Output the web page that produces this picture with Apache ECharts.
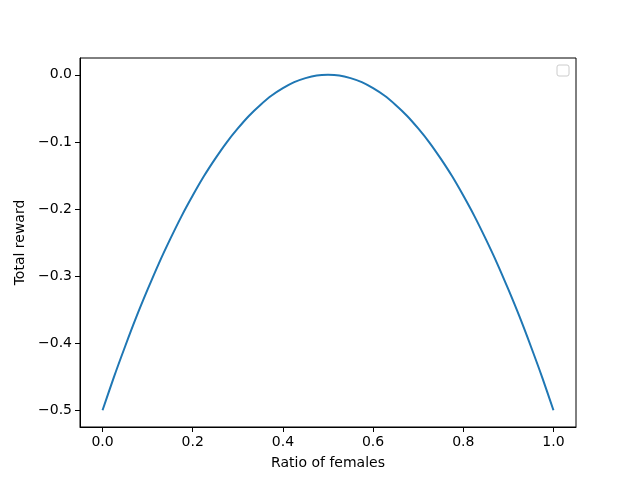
<!DOCTYPE html>
<html>
<head>
<meta charset="utf-8">
<script src="https://cdn.jsdelivr.net/npm/echarts@6/dist/echarts.min.js"></script>
<style>
  html, body { margin: 0; padding: 0; background: #fff; }
  #chart { width: 640px; height: 480px; }
</style>
</head>
<body>
<div id="chart"></div>
<script>
// values
var ratios  = [0, 0.025, 0.05, 0.075, 0.1, 0.125, 0.15, 0.175, 0.2, 0.225,
               0.25, 0.275, 0.3, 0.325, 0.35, 0.375, 0.4, 0.425, 0.45, 0.475, 0.5,
               0.525, 0.55, 0.575, 0.6, 0.625, 0.65, 0.675, 0.7, 0.725, 0.75,
               0.775, 0.8, 0.825, 0.85, 0.875, 0.9, 0.925, 0.95, 0.975, 1.0];
var rewards = [-0.5, -0.451, -0.405, -0.361, -0.32, -0.281, -0.245, -0.211, -0.18, -0.151,
               -0.125, -0.101, -0.08, -0.061, -0.045, -0.031, -0.02, -0.011, -0.005, -0.001, 0,
               -0.001, -0.005, -0.011, -0.02, -0.031, -0.045, -0.061, -0.08, -0.101, -0.125,
               -0.151, -0.18, -0.211, -0.245, -0.281, -0.32, -0.361, -0.405, -0.451, -0.5];
var xTicks = [0, 0.2, 0.4, 0.6, 0.8, 1.0];
var yTicks = [-0.5, -0.4, -0.3, -0.2, -0.1, 0.0];

var font = 'DejaVu Sans';
function fmt(v) {
  return v.toFixed(1).replace('-', '\u2212');
}

var myChart = echarts.init(document.getElementById('chart'));
myChart.setOption({
  animation: false,
  grid: {
    left: 80, right: 64, top: 58, bottom: 53,
    show: true,
    borderColor: '#000',
    borderWidth: 1
  },
  xAxis: {
    type: 'value',
    min: -0.05,
    max: 1.05,
    name: 'Ratio of females',
    nameLocation: 'middle',
    nameGap: 29,
    nameTextStyle: { fontFamily: font, fontSize: 14, color: '#000' },
    axisLine: { show: true, onZero: false, lineStyle: { color: '#000', width: 1 } },
    axisTick: { show: true, length: 5, customValues: xTicks, lineStyle: { color: '#000' } },
    axisLabel: {
      customValues: xTicks,
      formatter: fmt,
      fontFamily: font, fontSize: 14, color: '#000', margin: 8
    },
    splitLine: { show: false }
  },
  yAxis: {
    type: 'value',
    min: -0.525,
    max: 0.025,
    name: 'Total reward',
    nameLocation: 'middle',
    nameRotate: 90,
    nameGap: 51,
    nameTextStyle: { fontFamily: font, fontSize: 14, color: '#000' },
    axisLine: { show: true, onZero: false, lineStyle: { color: '#000', width: 1 } },
    axisTick: { show: true, length: 5, customValues: yTicks, lineStyle: { color: '#000' } },
    axisLabel: {
      customValues: yTicks,
      formatter: fmt,
      fontFamily: font, fontSize: 14, color: '#000', margin: 8
    },
    splitLine: { show: false }
  },
  series: [{
    type: 'line',
    data: ratios.map(function (x, i) { return [x, rewards[i]]; }),
    smooth: 0.3,
    showSymbol: false,
    lineStyle: { color: '#1f77b4', width: 2 }
  }],
  graphic: [{
    type: 'rect',
    shape: { x: 557, y: 65, width: 12, height: 11, r: 2 },
    style: { fill: '#fff', stroke: '#cccccc', lineWidth: 1 }
  }]
});
</script>
</body>
</html>
